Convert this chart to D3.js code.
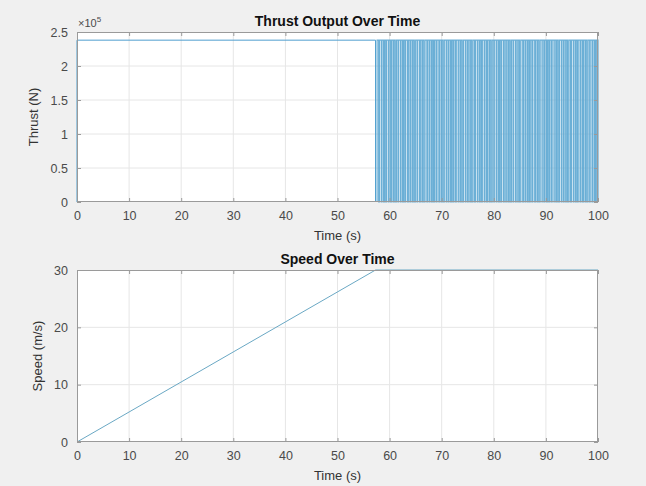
<!DOCTYPE html>
<html><head><meta charset="utf-8">
<script src="https://cdn.jsdelivr.net/npm/d3@7"></script>
<style>
html,body{margin:0;padding:0;background:#f0f0f0;}
svg{display:block;font-family:"Liberation Sans",Arial,sans-serif;}
</style></head>
<body>
<svg id="c" width="646" height="486"></svg>
<script>
// ---- data ----
const xTicks = [0,10,20,30,40,50,60,70,80,90,100];
const thrustTicks = [0,0.5e5,1e5,1.5e5,2e5,2.5e5];
const speedTicks = [0,10,20,30];
const thrustMax = 2.38e5;
// full-thrust phase (time, thrust)
const thrustPhase = [[0,0],[0,2.38e5],[57.3,2.38e5],[57.3,0]];
// bang-bang pulse start times after target speed reached (s)
const pulseStarts = [57.6,58.1,58.5,59.0,59.4,59.9,60.4,60.8,61.3,61.7,62.2,62.7,63.1,63.6,64.0,64.5,65.0,65.4,65.9,66.3,66.8,67.3,67.7,68.2,68.6,69.1,69.6,70.0,70.5,70.9,71.4,71.9,72.3,72.8,73.2,73.7,74.2,74.6,75.1,75.5,76.0,76.5,76.9,77.4,77.8,78.3,78.8,79.2,79.7,80.1,80.6,81.1,81.5,82.0,82.4,82.9,83.4,83.8,84.3,84.7,85.2,85.7,86.1,86.6,87.0,87.5,88.0,88.4,88.9,89.3,89.8,90.3,90.7,91.2,91.6,92.1,92.6,93.0,93.5,93.9,94.4,94.9,95.3,95.8,96.2,96.7,97.2,97.6,98.1,98.5,99.0,99.5,99.9];
const pulseWidths = [0.3,0.35,0.3,0.25,0.35,0.3,0.3,0.25];
const speedSeries = [[0,0],[57.3,30],[100,30]];

const svg = d3.select("#c");
const L = 77, R = 598;
const x = d3.scaleLinear().domain([0,100]).range([L,R]);

function drawAxes(g, y, top, bottom, yTicks) {
  g.append("rect").attr("x",L).attr("y",top).attr("width",R-L).attr("height",bottom-top).attr("fill","#fff");
  g.selectAll(".gx").data(xTicks.slice(1,-1)).enter().append("line")
    .attr("x1",d=>x(d)).attr("x2",d=>x(d)).attr("y1",top).attr("y2",bottom)
    .attr("stroke","#e6e6e6").attr("stroke-width",1);
  g.selectAll(".gy").data(yTicks.slice(1,-1)).enter().append("line")
    .attr("x1",L).attr("x2",R).attr("y1",d=>y(d)).attr("y2",d=>y(d))
    .attr("stroke","#e6e6e6").attr("stroke-width",1);
}
function finishAxes(g, y, top, bottom, yTicks, yFmt, title, ylab, ylabX) {
  g.append("rect").attr("x",L+0.5).attr("y",top+0.5).attr("width",R-L-1).attr("height",bottom-top-1)
    .attr("fill","none").attr("stroke","#9a9a9a").attr("stroke-width",1);
  const xb = d3.axisBottom(x).tickValues(xTicks).tickSize(-4).tickPadding(9).tickFormat(d3.format("d"));
  const ga = g.append("g").attr("transform",`translate(0,${bottom})`).call(xb);
  const xt = d3.axisTop(x).tickValues(xTicks).tickSize(-4).tickFormat("");
  const gt = g.append("g").attr("transform",`translate(0,${top})`).call(xt);
  const yl = d3.axisLeft(y).tickValues(yTicks).tickSize(-4).tickPadding(9).tickFormat(yFmt);
  const gl = g.append("g").attr("transform",`translate(${L},0)`).call(yl);
  const yr = d3.axisRight(y).tickValues(yTicks).tickSize(-4).tickFormat("");
  const gr = g.append("g").attr("transform",`translate(${R},0)`).call(yr);
  [ga,gt,gl,gr].forEach(a=>{
    a.select(".domain").remove();
    a.selectAll("line").attr("stroke","#9a9a9a");
    a.selectAll("text").attr("fill","#4a4a4a").attr("font-size","12.5px").attr("font-family","Liberation Sans, Arial, sans-serif");
  });
  g.append("text").attr("x",(L+R)/2).attr("y",top-6).attr("text-anchor","middle")
    .attr("font-size","14px").attr("font-weight","bold").attr("fill","#111").text(title);
  g.append("text").attr("x",(L+R)/2).attr("y",bottom+38).attr("text-anchor","middle")
    .attr("font-size","13px").attr("fill","#333").text("Time (s)");
  g.append("text").attr("transform",`translate(${ylabX},${(top+bottom)/2}) rotate(-90)`).attr("text-anchor","middle")
    .attr("font-size","13px").attr("fill","#333").text(ylab);
}

// ---- top plot ----
const t1 = 32, b1 = 202;
const y1 = d3.scaleLinear().domain([0,2.5e5]).range([b1,t1]);
const g1 = svg.append("g");
drawAxes(g1, y1, t1, b1, thrustTicks);
const line = d3.line().x(d=>x(d[0])).y(d=>y1(d[1]));
g1.append("path").attr("d",line(thrustPhase)).attr("fill","none").attr("stroke","#4f9fcf").attr("stroke-width",1);
const pulsePts = [];
pulseStarts.forEach((t,i)=>{
  const w = pulseWidths[i % pulseWidths.length];
  const te = Math.min(t+w,100);
  pulsePts.push([t,0],[t,thrustMax],[te,thrustMax],[te,0]);
});
g1.append("path").attr("d",line(pulsePts)).attr("fill","none").attr("stroke","#5ba6d2").attr("stroke-width",1.2).attr("stroke-opacity",0.9);
finishAxes(g1, y1, t1, b1, thrustTicks, d=>d3.format("")(d/1e5), "Thrust Output Over Time", "Thrust (N)", 38);
const ex = g1.append("text").attr("x",78).attr("y",t1-5).attr("font-size","11px").attr("fill","#4a4a4a");
ex.append("tspan").text("\u00d710");
ex.append("tspan").attr("dy",-5).attr("font-size","8px").text("5");

// ---- bottom plot ----
const t2 = 270, b2 = 442;
const y2 = d3.scaleLinear().domain([0,30]).range([b2,t2]);
const g2 = svg.append("g");
drawAxes(g2, y2, t2, b2, speedTicks);
const line2 = d3.line().x(d=>x(d[0])).y(d=>y2(d[1]));
g2.append("path").attr("d",line2(speedSeries)).attr("fill","none").attr("stroke","#6aa8c4").attr("stroke-width",1);
finishAxes(g2, y2, t2, b2, speedTicks, d3.format("d"), "Speed Over Time", "Speed (m/s)", 42);
</script>
</body></html>
